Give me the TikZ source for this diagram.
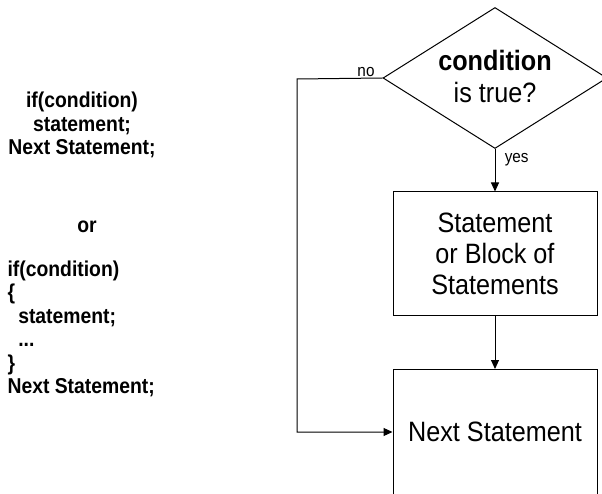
\documentclass[tikz,border=0pt]{standalone}
\usepackage{fontspec}
\setmainfont{Liberation Sans}[FakeStretch=0.9]
\usetikzlibrary{shapes.geometric,arrows.meta}
\begin{document}
\begin{tikzpicture}[x=1pt,y=1pt,
  flow/.style={draw,line width=1pt},
  arr/.style={-{Triangle[length=9pt,width=8pt]},line width=1pt},
  code/.style={font=\bfseries\fontsize{21.5}{23.5}\selectfont},
  boxtxt/.style={font=\fontsize{28}{31}\selectfont,align=center},
  small/.style={font=\fontsize{17}{19}\selectfont}]
\useasboundingbox (0,0) rectangle (602,493);

% code listings on the left
\node[code,align=center] (short) at (82,368) {if(condition)\\statement;\\Next Statement;};
\node[code] (or) at (87,266) {or};
\node[code,align=left,anchor=west] (long) at (4,164)
  {if(condition)\\\{\\\ \ statement;\\\ \ ...\\\}\\Next Statement;};

% decision
\node[flow,diamond,minimum width=224pt,minimum height=141pt,inner sep=0pt] (cond) at (495,415) {};
\node[font=\bfseries\fontsize{28}{31}\selectfont] (c1) at (495,433) {condition};
\node[font=\fontsize{28}{31}\selectfont] (c2) at (495,401) {is true?};

% statement blocks
\node[flow,minimum width=204pt,minimum height=123pt,boxtxt] (stmt) at (495,239.5) {Statement\\or Block of\\Statements};
\node[flow,minimum width=204pt,minimum height=140pt,boxtxt,anchor=north] (next) at (495,124) {};
\node[boxtxt] (nexttxt) at (495,61) {Next Statement};

% connectors
\draw[arr] (cond.south) -- (stmt.north) node[pos=0.25,right,small,xshift=6pt] {yes};
\draw[arr] (stmt.south) -- (next.north);
\coordinate (nl) at (297,414);
\coordinate (nb) at (297,61);
\draw[arr] (cond.west) -- (nl) -- (nb) -- (nb -| next.west);
\node[small,anchor=south] (no) at (366,413) {no};
\end{tikzpicture}
\end{document}
